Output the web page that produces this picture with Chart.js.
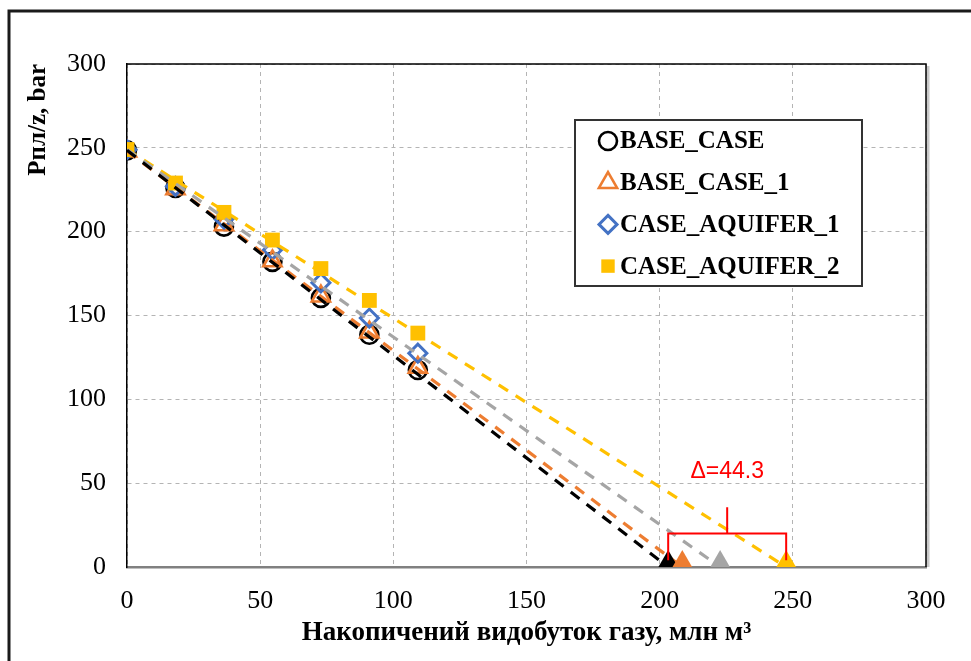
<!DOCTYPE html>
<html>
<head>
<meta charset="utf-8">
<script src="https://cdn.jsdelivr.net/npm/chart.js@4.4.1/dist/chart.umd.min.js"></script>
<style>
  html, body { margin: 0; padding: 0; background: #fff; }
  #wrap { width: 971px; height: 661px; position: relative; }
</style>
</head>
<body>
<div id="wrap"><canvas id="c" width="971" height="661"></canvas></div>
<script>
// Cumulative gas production, mln m3
const production = [0, 18.2, 36.4, 54.6, 72.8, 91, 109.2];

// Reservoir p/z, bar
const seriesNames = ['BASE_CASE', 'BASE_CASE_1', 'CASE_AQUIFER_1', 'CASE_AQUIFER_2'];
const baseCase  = [248.5, 226, 203, 182, 160.5, 138.5, 117.5];
const baseCase1 = [248, 225.5, 204, 182.5, 161.5, 140, 119];
const aquifer1  = [249, 227, 207.5, 189, 169.5, 148.5, 127.5];
const aquifer2  = [249, 229, 211.5, 195, 178, 159, 139.5];

// Straight-line extrapolation of each series: p/z at zero production
// and the production at which p/z reaches zero
const trendStart     = [248.5, 248, 249, 249];
const trendIntercept = [203.2, 208.5, 222.7, 247.5];

// Axis ticks
const xTicks = [0, 50, 100, 150, 200, 250, 300];
const yTicks = [0, 50, 100, 150, 200, 250, 300];

// Bracket between the smallest and largest intercept (p/z levels)
const bracketLevels = { foot: 4, bar: 20, stem: 35.7, label: 57 };

const serif = "'Liberation Serif', 'Times New Roman', serif";
const sans = "'Liberation Sans', Arial, sans-serif";

const markerStyles = [
  { pointStyle: 'circle',   radius: 9,    stroke: '#000000', fill: 'rgba(0,0,0,0)', width: 2.6 },
  { pointStyle: 'triangle', radius: 10.5, stroke: '#ED7D31', fill: 'rgba(0,0,0,0)', width: 2.6 },
  { pointStyle: 'rectRot',  radius: 9,    stroke: '#4472C4', fill: 'rgba(0,0,0,0)', width: 3 },
  { pointStyle: 'rect',     radius: 10.5, stroke: '#FFC000', fill: '#FFC000',       width: 0 }
];
const trendColors = ['#000000', '#ED7D31', '#A5A5A5', '#FFC000'];
const seriesValues = [baseCase, baseCase1, aquifer1, aquifer2];

const toPoints = ys => ys.map((y, i) => ({ x: production[i], y }));

const datasets = [];
// dashed trend lines, drawn over the markers
seriesNames.forEach((name, i) => {
  datasets.push({
    label: name + ' trend',
    data: [{ x: 0, y: trendStart[i] }, { x: trendIntercept[i], y: 0 }],
    showLine: true,
    borderColor: trendColors[i],
    borderWidth: 3.2,
    borderDash: [11, 9],
    pointRadius: 0,
    order: 1,
    isTrend: true
  });
});
// measured points
seriesNames.forEach((name, i) => {
  const m = markerStyles[i];
  datasets.push({
    label: name,
    data: toPoints(seriesValues[i]),
    showLine: false,
    pointStyle: m.pointStyle,
    pointRadius: m.radius,
    pointHoverRadius: m.radius,
    pointBorderColor: m.stroke,
    pointBackgroundColor: m.fill,
    pointBorderWidth: m.width,
    order: 5 - i,
    isSeries: true,
    markerIndex: i
  });
});
// intercept markers on the production axis
datasets.push({
  label: 'intercepts',
  data: trendIntercept.map(x => ({ x, y: 0 })),
  showLine: false,
  pointStyle: 'triangle',
  pointRadius: 17,
  pointHoverRadius: 17,
  pointBackgroundColor: trendColors,
  pointBorderWidth: 0,
  clip: 0,
  order: 0
});

function drawMarker(ctx, m, x, y) {
  const r = m.radius;
  ctx.save();
  ctx.beginPath();
  if (m.pointStyle === 'circle') {
    ctx.arc(x, y, r, 0, Math.PI * 2);
  } else if (m.pointStyle === 'triangle') {
    for (let k = 0; k < 3; k++) {
      const a = k * 2 * Math.PI / 3;
      const px = x + Math.sin(a) * r, py = y - Math.cos(a) * r;
      k ? ctx.lineTo(px, py) : ctx.moveTo(px, py);
    }
    ctx.closePath();
  } else if (m.pointStyle === 'rectRot') {
    ctx.moveTo(x, y - r); ctx.lineTo(x + r, y); ctx.lineTo(x, y + r); ctx.lineTo(x - r, y);
    ctx.closePath();
  } else {
    const s = Math.SQRT1_2 * r;
    ctx.rect(x - s, y - s, 2 * s, 2 * s);
  }
  ctx.fillStyle = m.fill;
  ctx.fill();
  if (m.width > 0) {
    ctx.lineWidth = m.width;
    ctx.strokeStyle = m.stroke;
    ctx.stroke();
  }
  ctx.restore();
}

const framePlugin = {
  id: 'frame',
  beforeDraw(chart) {
    const ctx = chart.ctx;
    ctx.save();
    ctx.fillStyle = '#ffffff';
    ctx.fillRect(0, 0, chart.width, chart.height);
    ctx.strokeStyle = '#1a1a1a';
    ctx.lineWidth = 3;
    ctx.beginPath();
    ctx.moveTo(9, chart.height);
    ctx.lineTo(9, 11);
    ctx.lineTo(chart.width, 11);
    ctx.stroke();
    ctx.restore();
  },
  afterDraw(chart) {
    const { ctx, chartArea: a } = chart;
    ctx.save();
    // soft shadow on the right edge
    ctx.strokeStyle = '#c8c8c8';
    ctx.lineWidth = 3;
    ctx.beginPath();
    ctx.moveTo(a.right + 2, a.top + 2);
    ctx.lineTo(a.right + 2, a.bottom);
    ctx.stroke();
    ctx.strokeStyle = '#000000';
    ctx.lineWidth = 1.5;
    ctx.beginPath();
    ctx.moveTo(a.left, a.top);
    ctx.lineTo(a.right, a.top);
    ctx.lineTo(a.right, a.bottom);
    ctx.stroke();
    ctx.restore();
  }
};

const bracketPlugin = {
  id: 'bracket',
  afterDatasetsDraw(chart) {
    const { ctx, scales: { x, y } } = chart;
    const lo = Math.min(...trendIntercept), hi = Math.max(...trendIntercept);
    const xl = x.getPixelForValue(lo), xr = x.getPixelForValue(hi);
    const xm = x.getPixelForValue((lo + hi) / 2);
    const yFoot = y.getPixelForValue(bracketLevels.foot);
    const yBar = y.getPixelForValue(bracketLevels.bar);
    const yStem = y.getPixelForValue(bracketLevels.stem);
    ctx.save();
    ctx.strokeStyle = '#ff0000';
    ctx.lineWidth = 2;
    ctx.beginPath();
    ctx.moveTo(xl, yFoot); ctx.lineTo(xl, yBar); ctx.lineTo(xr, yBar); ctx.lineTo(xr, yFoot);
    ctx.moveTo(xm, yBar); ctx.lineTo(xm, yStem);
    ctx.stroke();
    ctx.fillStyle = '#ff0000';
    ctx.font = '23px ' + sans;
    ctx.textAlign = 'center';
    ctx.textBaseline = 'middle';
    ctx.fillText('\u0394=' + (hi - lo).toFixed(1), xm, y.getPixelForValue(bracketLevels.label));
    ctx.restore();
  }
};

const legendPlugin = {
  id: 'boxLegend',
  afterDraw(chart) {
    const ctx = chart.ctx;
    const box = { left: 575, top: 120, width: 287, height: 166 };
    ctx.save();
    ctx.fillStyle = '#ffffff';
    ctx.fillRect(box.left, box.top, box.width, box.height);
    ctx.strokeStyle = '#333333';
    ctx.lineWidth = 2;
    ctx.strokeRect(box.left, box.top, box.width, box.height);
    ctx.font = 'bold 25px ' + serif;
    ctx.fillStyle = '#000000';
    ctx.textBaseline = 'middle';
    ctx.textAlign = 'left';
    const rows = chart.data.datasets.filter(d => d.isSeries);
    rows.forEach((ds, k) => {
      const cy = 141 + k * 41.7;
      const m = Object.assign({}, markerStyles[ds.markerIndex]);
      if (m.pointStyle === 'rect') m.radius = 9.5;
      drawMarker(ctx, m, 608, cy);
      ctx.fillText(ds.label, 620, cy + 1);
    });
    ctx.restore();
  }
};

new Chart(document.getElementById('c'), {
  type: 'scatter',
  data: { datasets },
  plugins: [framePlugin, bracketPlugin, legendPlugin],
  options: {
    responsive: false,
    animation: false,
    devicePixelRatio: 1,
    layout: { padding: { top: 64, right: 45, bottom: 0, left: 0 } },
    plugins: { legend: { display: false }, tooltip: { enabled: false } },
    scales: {
      x: {
        type: 'linear',
        min: xTicks[0],
        max: xTicks[xTicks.length - 1],
        afterBuildTicks: s => { s.ticks = xTicks.map(v => ({ value: v })); },
        afterFit: s => { s.height = 94; },
        grid: { color: '#b4b4b4', lineWidth: 1, drawTicks: false },
        border: { display: true, color: '#808080', width: 2.5, dash: [4, 4] },
        ticks: { padding: 19, color: '#000', font: { family: serif, size: 26 } },
        title: {
          display: true,
          text: 'Накопичений видобуток газу, млн м\u00B3',
          color: '#000',
          font: { family: serif, size: 27, weight: 'bold' },
          padding: { top: 0, bottom: 12 }
        }
      },
      y: {
        type: 'linear',
        min: yTicks[0],
        max: yTicks[yTicks.length - 1],
        afterBuildTicks: s => { s.ticks = yTicks.map(v => ({ value: v })); },
        afterFit: s => { s.width = 127; },
        grid: { color: '#b4b4b4', lineWidth: 1, drawTicks: false },
        border: { display: true, color: '#000000', width: 1.5, dash: [4, 4] },
        ticks: { padding: 21, color: '#000', font: { family: serif, size: 26 } },
        title: {
          display: true,
          text: 'Рпл/z, bar',
          align: 'end',
          color: '#000',
          font: { family: serif, size: 25, weight: 'bold' },
          padding: { top: 24, bottom: 0 }
        }
      }
    }
  }
});
</script>
</body>
</html>
